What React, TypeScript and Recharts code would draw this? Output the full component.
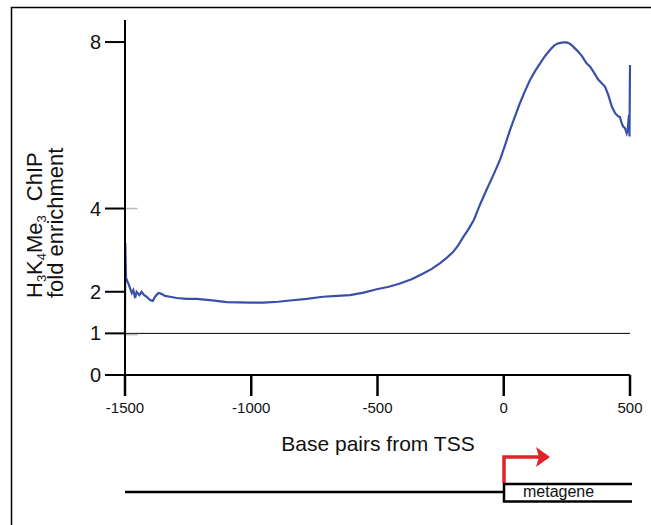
import { LineChart, Line, XAxis, YAxis, ReferenceLine } from 'recharts';

// base pairs relative to the TSS
const basePairs = [
  -1500, -1499, -1496, -1487, -1480, -1473, -1467, -1460, -1454, -1443, -1434, -1424, -1414,
  -1401, -1390, -1381, -1368, -1355, -1342, -1322, -1295, -1256, -1216, -1163, -1097, -1005,
  -950, -894, -847, -780, -716, -660, -609, -555, -503, -455, -411, -365, -319, -285, -252,
  -225, -200, -180, -160, -140, -118, -95, -68, -40, -15, 5, 25, 45, 64, 84, 104, 124, 144,
  163, 183, 200, 216, 235, 249, 262, 275, 290, 309, 328, 342, 355, 374, 390, 401, 414, 428,
  441, 454, 460, 467, 473, 480, 487, 491, 493, 496, 498, 500,
];

// H3K4Me3 ChIP fold enrichment
const foldEnrichment = [
  1.0, 3.17, 2.33, 2.2, 2.09, 1.97, 2.04, 1.85, 2.0, 1.92, 2.0, 1.92, 1.88,
  1.8, 1.78, 1.88, 1.97, 1.95, 1.9, 1.88, 1.85, 1.83, 1.83, 1.8, 1.75, 1.74,
  1.74, 1.76, 1.79, 1.83, 1.88, 1.9, 1.92, 1.98, 2.06, 2.12, 2.2, 2.3, 2.44, 2.55, 2.69,
  2.82, 2.96, 3.12, 3.32, 3.5, 3.73, 4.08, 4.45, 4.82, 5.17, 5.52, 5.89, 6.22, 6.53, 6.82, 7.09, 7.3, 7.49,
  7.66, 7.81, 7.92, 7.97, 7.99, 7.99, 7.96, 7.89, 7.8, 7.67, 7.49, 7.41, 7.29, 7.1, 7.0, 6.93, 6.73, 6.45,
  6.29, 6.21, 6.2, 6.05, 5.97, 5.93, 5.81, 5.9, 6.05, 6.25, 5.73, 7.45,
];

const xTicks = [-1500, -1000, -500, 0, 500];
const yTicks = [0, 1, 2, 4, 8];

const data = basePairs.map((bp, i) => ({ bp, v: foldEnrichment[i] }));

const FONT = '"Liberation Sans", Arial, Helvetica, sans-serif';

export default function App() {
  return (
    <div style={{ position: 'absolute', left: 0, top: 0, width: 651, height: 525, background: '#fff', fontFamily: FONT }}>
      <LineChart width={651} height={525} data={data} margin={{ top: 20, right: 21, left: 65, bottom: 90 }}>
        <XAxis
          type="number"
          dataKey="bp"
          domain={[-1500, 500]}
          ticks={xTicks}
          height={60}
          tickSize={21}
          tickMargin={6}
          axisLine={{ stroke: '#000', strokeWidth: 2 }}
          tickLine={{ stroke: '#000', strokeWidth: 2.5 }}
          tick={{ fill: '#111', fontSize: 15, fontFamily: FONT }}
        />
        <YAxis
          type="number"
          domain={[0, 8.53]}
          ticks={yTicks}
          allowDataOverflow
          width={60}
          tickSize={20}
          tickMargin={4}
          axisLine={{ stroke: '#000', strokeWidth: 2 }}
          tickLine={{ stroke: '#000', strokeWidth: 2 }}
          tick={{ fill: '#111', fontSize: 20, fontFamily: FONT }}
        />
        <ReferenceLine y={1} stroke="#000" strokeWidth={1} />
        <ReferenceLine segment={[{ x: -1500, y: 4 }, { x: -1450, y: 4 }]} stroke="#bbb" strokeWidth={1.5} />
        <ReferenceLine segment={[{ x: -1500, y: 0.97 }, { x: -1450, y: 0.97 }]} stroke="#bbb" strokeWidth={1.5} />
        <Line
          type="linear"
          dataKey="v"
          stroke="#3a4fa8"
          strokeWidth={2.2}
          dot={false}
          isAnimationActive={false}
        />
      </LineChart>
      <svg width={651} height={525} style={{ position: 'absolute', left: 0, top: 0, pointerEvents: 'none' }}>
        {/* frame */}
        <path d="M11.5,525 V7.5 H651" fill="none" stroke="#000" strokeWidth={1.5} />
        {/* y axis title */}
        <text transform="translate(42,298) rotate(-90)" fontSize={22} fontFamily={FONT} fill="#111">
          <tspan>H</tspan>
          <tspan fontSize={13} dy={4}>3</tspan>
          <tspan dy={-4}>K</tspan>
          <tspan fontSize={13} dy={4}>4</tspan>
          <tspan dy={-4}>Me</tspan>
          <tspan fontSize={13} dy={4}>3</tspan>
          <tspan dy={-4} dx={14}>ChIP</tspan>
        </text>
        <text transform="translate(63,298) rotate(-90)" fontSize={22} fontFamily={FONT} fill="#111">
          fold enrichment
        </text>
        {/* x axis title */}
        <text x={378} y={451} fontSize={21} fontFamily={FONT} fill="#111" textAnchor="middle">
          Base pairs from TSS
        </text>
        {/* gene diagram */}
        <line x1={125} y1={492} x2={504} y2={492} stroke="#000" strokeWidth={2.5} />
        <path d="M632,484 H504 V501.5 H632" fill="none" stroke="#000" strokeWidth={2.5} />
        <text x={523} y={497} fontSize={16} fontFamily={FONT} fill="#111">metagene</text>
        <path d="M504,483 V457 H539" fill="none" stroke="#e2212a" strokeWidth={3.5} />
        <polygon points="536,447 550,457 536,467 539,457" fill="#e2212a" />
      </svg>
    </div>
  );
}
